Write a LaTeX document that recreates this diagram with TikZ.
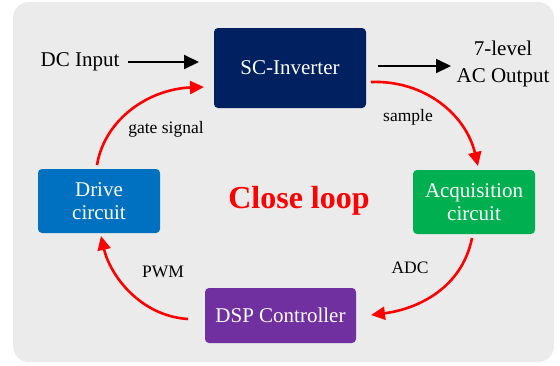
\documentclass[tikz,border=0pt]{standalone}
\usepackage{fontspec}
\setmainfont{Liberation Serif}
\usetikzlibrary{arrows.meta}
\definecolor{panel}{HTML}{EBEBEB}
\definecolor{navy}{HTML}{002060}
\definecolor{blueb}{HTML}{0070C0}
\definecolor{greenb}{HTML}{00B050}
\definecolor{purpleb}{HTML}{7030A0}
\definecolor{loopred}{HTML}{FF0000}
\tikzset{
  blockbox/.style={rounded corners=4pt, text=white, align=center,
    font=\fontsize{21}{23}\selectfont, inner sep=0pt},
  plain/.style={font=\fontsize{21}{27}\selectfont, align=center, inner sep=0pt},
  siglabel/.style={font=\fontsize{17.5}{19}\selectfont, inner sep=0pt},
  flow/.style={line width=2pt, -{Triangle[length=15pt,width=14pt]}},
  loopflow/.style={draw=loopred, line width=2.6pt,
    -{Triangle[length=14pt,width=13pt]}, color=loopred},
}
\begin{document}
\begin{tikzpicture}[x=1pt,y=-1pt]
\useasboundingbox (0,0) rectangle (560,365);
% panel
\fill[panel, rounded corners=16pt] (13,2) rectangle (554,362);

% blocks
\node[blockbox, fill=navy, minimum width=152pt, minimum height=80pt] (inv) at (290,68) {SC-Inverter};
\node[blockbox, fill=blueb, minimum width=122pt, minimum height=64pt] (drive) at (99,201) {Drive\\circuit};
\node[blockbox, fill=greenb, minimum width=122pt, minimum height=64pt] (acq) at (474,202) {Acquisition\\circuit};
\node[blockbox, fill=purpleb, minimum width=151pt, minimum height=55pt] (dsp) at (280.5,315.5) {DSP Controller};

% external texts
\node[plain] (dcin) at (80,62) {DC Input};
\node[plain] (acout) at (503,64) {7-level\\AC Output};
\node[font=\bfseries\fontsize{32}{34}\selectfont, text=loopred, inner sep=0pt] (close) at (299,201) {Close loop};

% straight flows
\coordinate (dcA) at (128,62);
\coordinate (dcB) at (199,62);
\coordinate (acA) at (378,66);
\coordinate (acB) at (451,66);
\draw[flow] (dcA) -- (dcB);
\draw[flow] (acA) -- (acB);

% loop arcs
\coordinate (g0) at (97,165);
\coordinate (g1) at (204,87);
\coordinate (s0) at (371,82);
\coordinate (s1) at (478,166);
\coordinate (a0) at (472,238);
\coordinate (a1) at (371,315);
\coordinate (p0) at (188,319);
\coordinate (p1) at (101,236);
\draw[loopflow] (g0) .. controls (105,118) and (150,89) .. (g1);
\draw[loopflow] (s0) .. controls (425,80) and (466,115) .. (s1);
\draw[loopflow] (a0) .. controls (462,288) and (418,309) .. (a1);
\draw[loopflow] (p0) .. controls (140,316) and (110,275) .. (p1);

% signal labels
\node[siglabel] (lgate) at (166,129) {gate signal};
\node[siglabel] (lsample) at (408,117) {sample};
\node[siglabel] (ladc) at (410,268) {ADC};
\node[siglabel] (lpwm) at (163,272) {PWM};
\end{tikzpicture}
\end{document}
